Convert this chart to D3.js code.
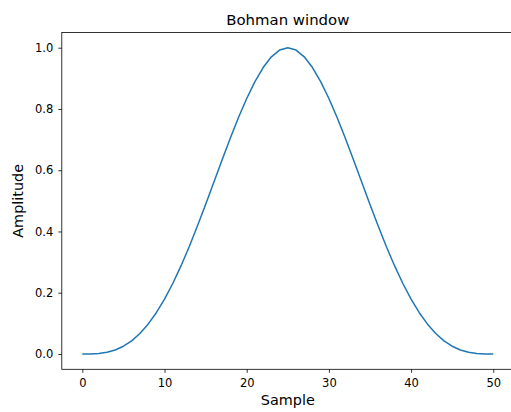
<!DOCTYPE html>
<html>
<head>
  <meta charset="utf-8">
  <title>Bohman window</title>
  <style>
    body { margin: 0; background: #fff; }
    text { font-family: "DejaVu Sans", sans-serif; fill: #000; }
  </style>
</head>
<body>
  <script src="https://cdn.jsdelivr.net/npm/d3@7"></script>
  <script>
    // window values, sample 0..50
    var samples = d3.range(0, 51);
    var amplitude = [
      0, 0.000210, 0.001674, 0.005605, 0.013139, 0.025295, 0.042945, 0.066783,
      0.097293, 0.134735, 0.179124, 0.230227, 0.287542, 0.350333, 0.417608,
      0.488141, 0.560514, 0.633120, 0.704207, 0.771914, 0.834312, 0.889446,
      0.935381, 0.970257, 0.992325, 1.0, 0.992325, 0.970257, 0.935381,
      0.889446, 0.834312, 0.771914, 0.704207, 0.633120, 0.560514, 0.488141,
      0.417608, 0.350333, 0.287542, 0.230227, 0.179124, 0.134735, 0.097293,
      0.066783, 0.042945, 0.025295, 0.013139, 0.005605, 0.001674, 0.000210, 0
    ];
    var xTicks = [0, 10, 20, 30, 40, 50];
    var yTicks = [0.0, 0.2, 0.4, 0.6, 0.8, 1.0];

    var W = 511, H = 412;
    // plot area edges (note: "top" is reserved on window)
    var pLeft = 61.8, pRight = 513.8, pTop = 32.4, pBottom = 369.3;

    var svg = d3.select("body").append("svg")
      .attr("width", W)
      .attr("height", H);

    var x = d3.scaleLinear().domain([-2.5, 52.5]).range([pLeft, pRight]);
    var y = d3.scaleLinear().domain([-0.05, 1.05]).range([pBottom, pTop]);

    // line
    var line = d3.line()
      .x(function(d, i) { return x(samples[i]); })
      .y(function(d) { return y(d); });

    svg.append("path")
      .datum(amplitude)
      .attr("fill", "none")
      .attr("stroke", "#1f77b4")
      .attr("stroke-width", 1.5)
      .attr("stroke-linejoin", "round")
      .attr("d", line);

    // axes
    var xAxis = svg.append("g")
      .attr("transform", "translate(0," + pBottom + ")")
      .call(d3.axisBottom(x).tickValues(xTicks).tickSize(3.5).tickPadding(6));
    var yAxis = svg.append("g")
      .attr("transform", "translate(" + pLeft + ",0)")
      .call(d3.axisLeft(y).tickValues(yTicks).tickSize(3.5).tickPadding(5)
        .tickFormat(d3.format(".1f")));

    [xAxis, yAxis].forEach(function(g) {
      g.select(".domain").remove();
      g.selectAll("line").attr("stroke", "#000").attr("stroke-width", 0.8);
      g.selectAll("text")
        .style("font-family", "DejaVu Sans, sans-serif")
        .style("font-size", "11.5px")
        .attr("fill", "#000");
    });

    // frame
    svg.append("rect")
      .attr("x", pLeft).attr("y", pTop)
      .attr("width", pRight - pLeft).attr("height", pBottom - pTop)
      .attr("fill", "none")
      .attr("stroke", "#000")
      .attr("stroke-width", 0.8);

    // title and labels
    svg.append("text")
      .attr("x", (pLeft + pRight) / 2)
      .attr("y", 25)
      .attr("text-anchor", "middle")
      .style("font-size", "14.9px")
      .text("Bohman window");

    svg.append("text")
      .attr("x", (pLeft + pRight) / 2)
      .attr("y", 405)
      .attr("text-anchor", "middle")
      .style("font-size", "14.4px")
      .text("Sample");

    svg.append("text")
      .attr("transform", "translate(23," + ((pTop + pBottom) / 2) + ") rotate(-90)")
      .attr("text-anchor", "middle")
      .style("font-size", "14.4px")
      .text("Amplitude");
  </script>
</body>
</html>
